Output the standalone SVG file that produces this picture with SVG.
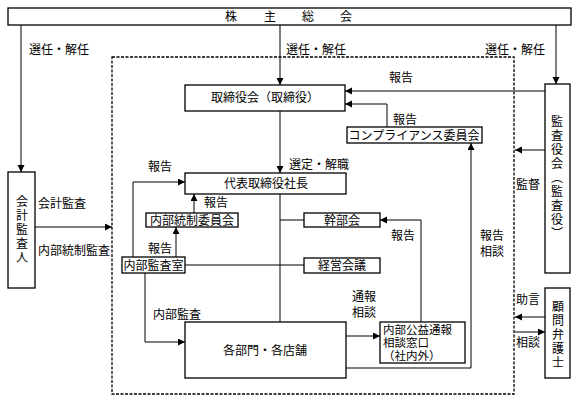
<svg xmlns="http://www.w3.org/2000/svg" width="578" height="402" viewBox="0 0 578 402">
<defs>
<marker id="ah" markerUnits="userSpaceOnUse" markerWidth="8" markerHeight="8" refX="7" refY="3.5" orient="auto">
<path d="M0,0 L7,3.5 L0,7 z" fill="#000"/>
</marker>
<style>
text{font-family:"Noto Sans CJK JP","Noto Sans",sans-serif;font-size:12px;fill:#000}
.c{text-anchor:middle}
.sm{font-size:11.5px}
.box{fill:#fff;stroke:#000;stroke-width:1.3}
.ln{fill:none;stroke:#000;stroke-width:1}
.ar{fill:none;stroke:#000;stroke-width:1;marker-end:url(#ah)}
.dash{fill:none;stroke:#000;stroke-width:1.3;stroke-dasharray:3 1.5}
.v{writing-mode:vertical-rl;text-anchor:middle;letter-spacing:2px}
</style>
</defs>
<rect width="578" height="402" fill="#fff"/>
<rect class="dash" x="112" y="57" width="402" height="337"/>

<g id="connectors">
<path class="ar" d="M21,25 V172"/>
<path class="ar" d="M280,25 V85"/>
<path class="ar" d="M556,25 V84"/>
<path class="ar" d="M545,91 H345"/>
<path class="ar" d="M387,127 V104 H345"/>
<path class="ar" d="M280,111 V173"/>
<path class="ar" d="M545,150 H515"/>
<path class="ar" d="M35,227 H112"/>
<path class="ar" d="M133,257 V182 H185"/>
<path class="ar" d="M194,213 V194"/>
<path class="ar" d="M176,257 V227"/>
<path class="ln" d="M280,194 V322"/>
<path class="ln" d="M280,220 H304"/>
<path class="ln" d="M185,265 H304"/>
<path class="ar" d="M421,322 V220 H380"/>
<path class="ar" d="M346,368 H471 V143"/>
<path class="ar" d="M346,336 H380"/>
<path class="ar" d="M145,273 V342 H185"/>
<path class="ar" d="M545,317 H515"/>
<path class="ar" d="M515,332 H545"/>
</g>

<g id="labels">
<text class="c" x="59" y="54">選任・解任</text>
<text class="c" x="316" y="54">選任・解任</text>
<text class="c" x="515" y="54">選任・解任</text>
<text class="c" x="401" y="82">報告</text>
<text class="c" x="405" y="124">報告</text>
<text class="c" x="160" y="171">報告</text>
<text class="c" x="319" y="169">選定・解職</text>
<text class="c" x="528" y="189">監督</text>
<text class="c" x="62" y="208">会計監査</text>
<text class="c" x="216" y="207">報告</text>
<text class="c" x="403" y="240">報告</text>
<text class="c" x="492" y="240">報告</text>
<text class="c" x="492" y="256">相談</text>
<text class="c" x="160" y="253">報告</text>
<text class="c" x="74" y="255">内部統制監査</text>
<text class="c" x="364" y="301">通報</text>
<text class="c" x="364" y="317">相談</text>
<text class="c" x="528" y="304">助言</text>
<text class="c" x="177" y="319">内部監査</text>
<text class="c" x="528" y="347">相談</text>
</g>

<g id="kabunushi">
<rect class="box" x="8" y="8" width="563" height="17"/>
<text class="c" x="231 270 308 346" y="21">株主総会</text>
</g>
<g id="torishimariyakukai">
<rect class="box" x="185" y="85" width="160" height="26"/>
<text class="c" x="265" y="102">取締役会（取締役）</text>
</g>
<g id="compliance">
<rect class="box" x="347" y="127" width="135" height="16"/>
<text class="c" x="414" y="139.5">コンプライアンス委員会</text>
</g>
<g id="kansayakukai">
<rect class="box" x="545" y="84" width="25" height="189"/>
<text class="v" x="557" y="178">監査役会（監査役）</text>
</g>
<g id="kaikeikansanin">
<rect class="box" x="8" y="172" width="27" height="116"/>
<text class="v" x="22" y="230">会計監査人</text>
</g>
<g id="daihyo">
<rect class="box" x="185" y="173" width="161" height="21"/>
<text class="c" x="266" y="188">代表取締役社長</text>
</g>
<g id="naibutousei">
<rect class="box" x="146" y="213" width="92" height="14"/>
<text class="c" x="192" y="224.5">内部統制委員会</text>
</g>
<g id="kanbukai">
<rect class="box" x="304" y="213" width="76" height="14"/>
<text class="c" x="342" y="224.5">幹部会</text>
</g>
<g id="naibukansashitsu">
<rect class="box" x="122" y="257" width="63" height="16"/>
<text class="c" x="153.5" y="269.5">内部監査室</text>
</g>
<g id="keieikaigi">
<rect class="box" x="304" y="258" width="76" height="15"/>
<text class="c" x="342" y="270">経営会議</text>
</g>
<g id="kakubumon">
<rect class="box" x="185" y="322" width="161" height="56"/>
<text class="c" x="265" y="354.5">各部門・各店舗</text>
</g>
<g id="naibukoueki">
<rect class="box" x="380" y="322" width="85" height="41"/>
<text class="sm" x="383" y="333.5">内部公益通報<tspan x="383" dy="13">相談窓口</tspan><tspan x="383" dy="13">（社内外）</tspan></text>
</g>
<g id="komonbengoshi">
<rect class="box" x="545" y="288" width="25" height="90"/>
<text class="v" x="558" y="335">顧問弁護士</text>
</g>
</svg>
